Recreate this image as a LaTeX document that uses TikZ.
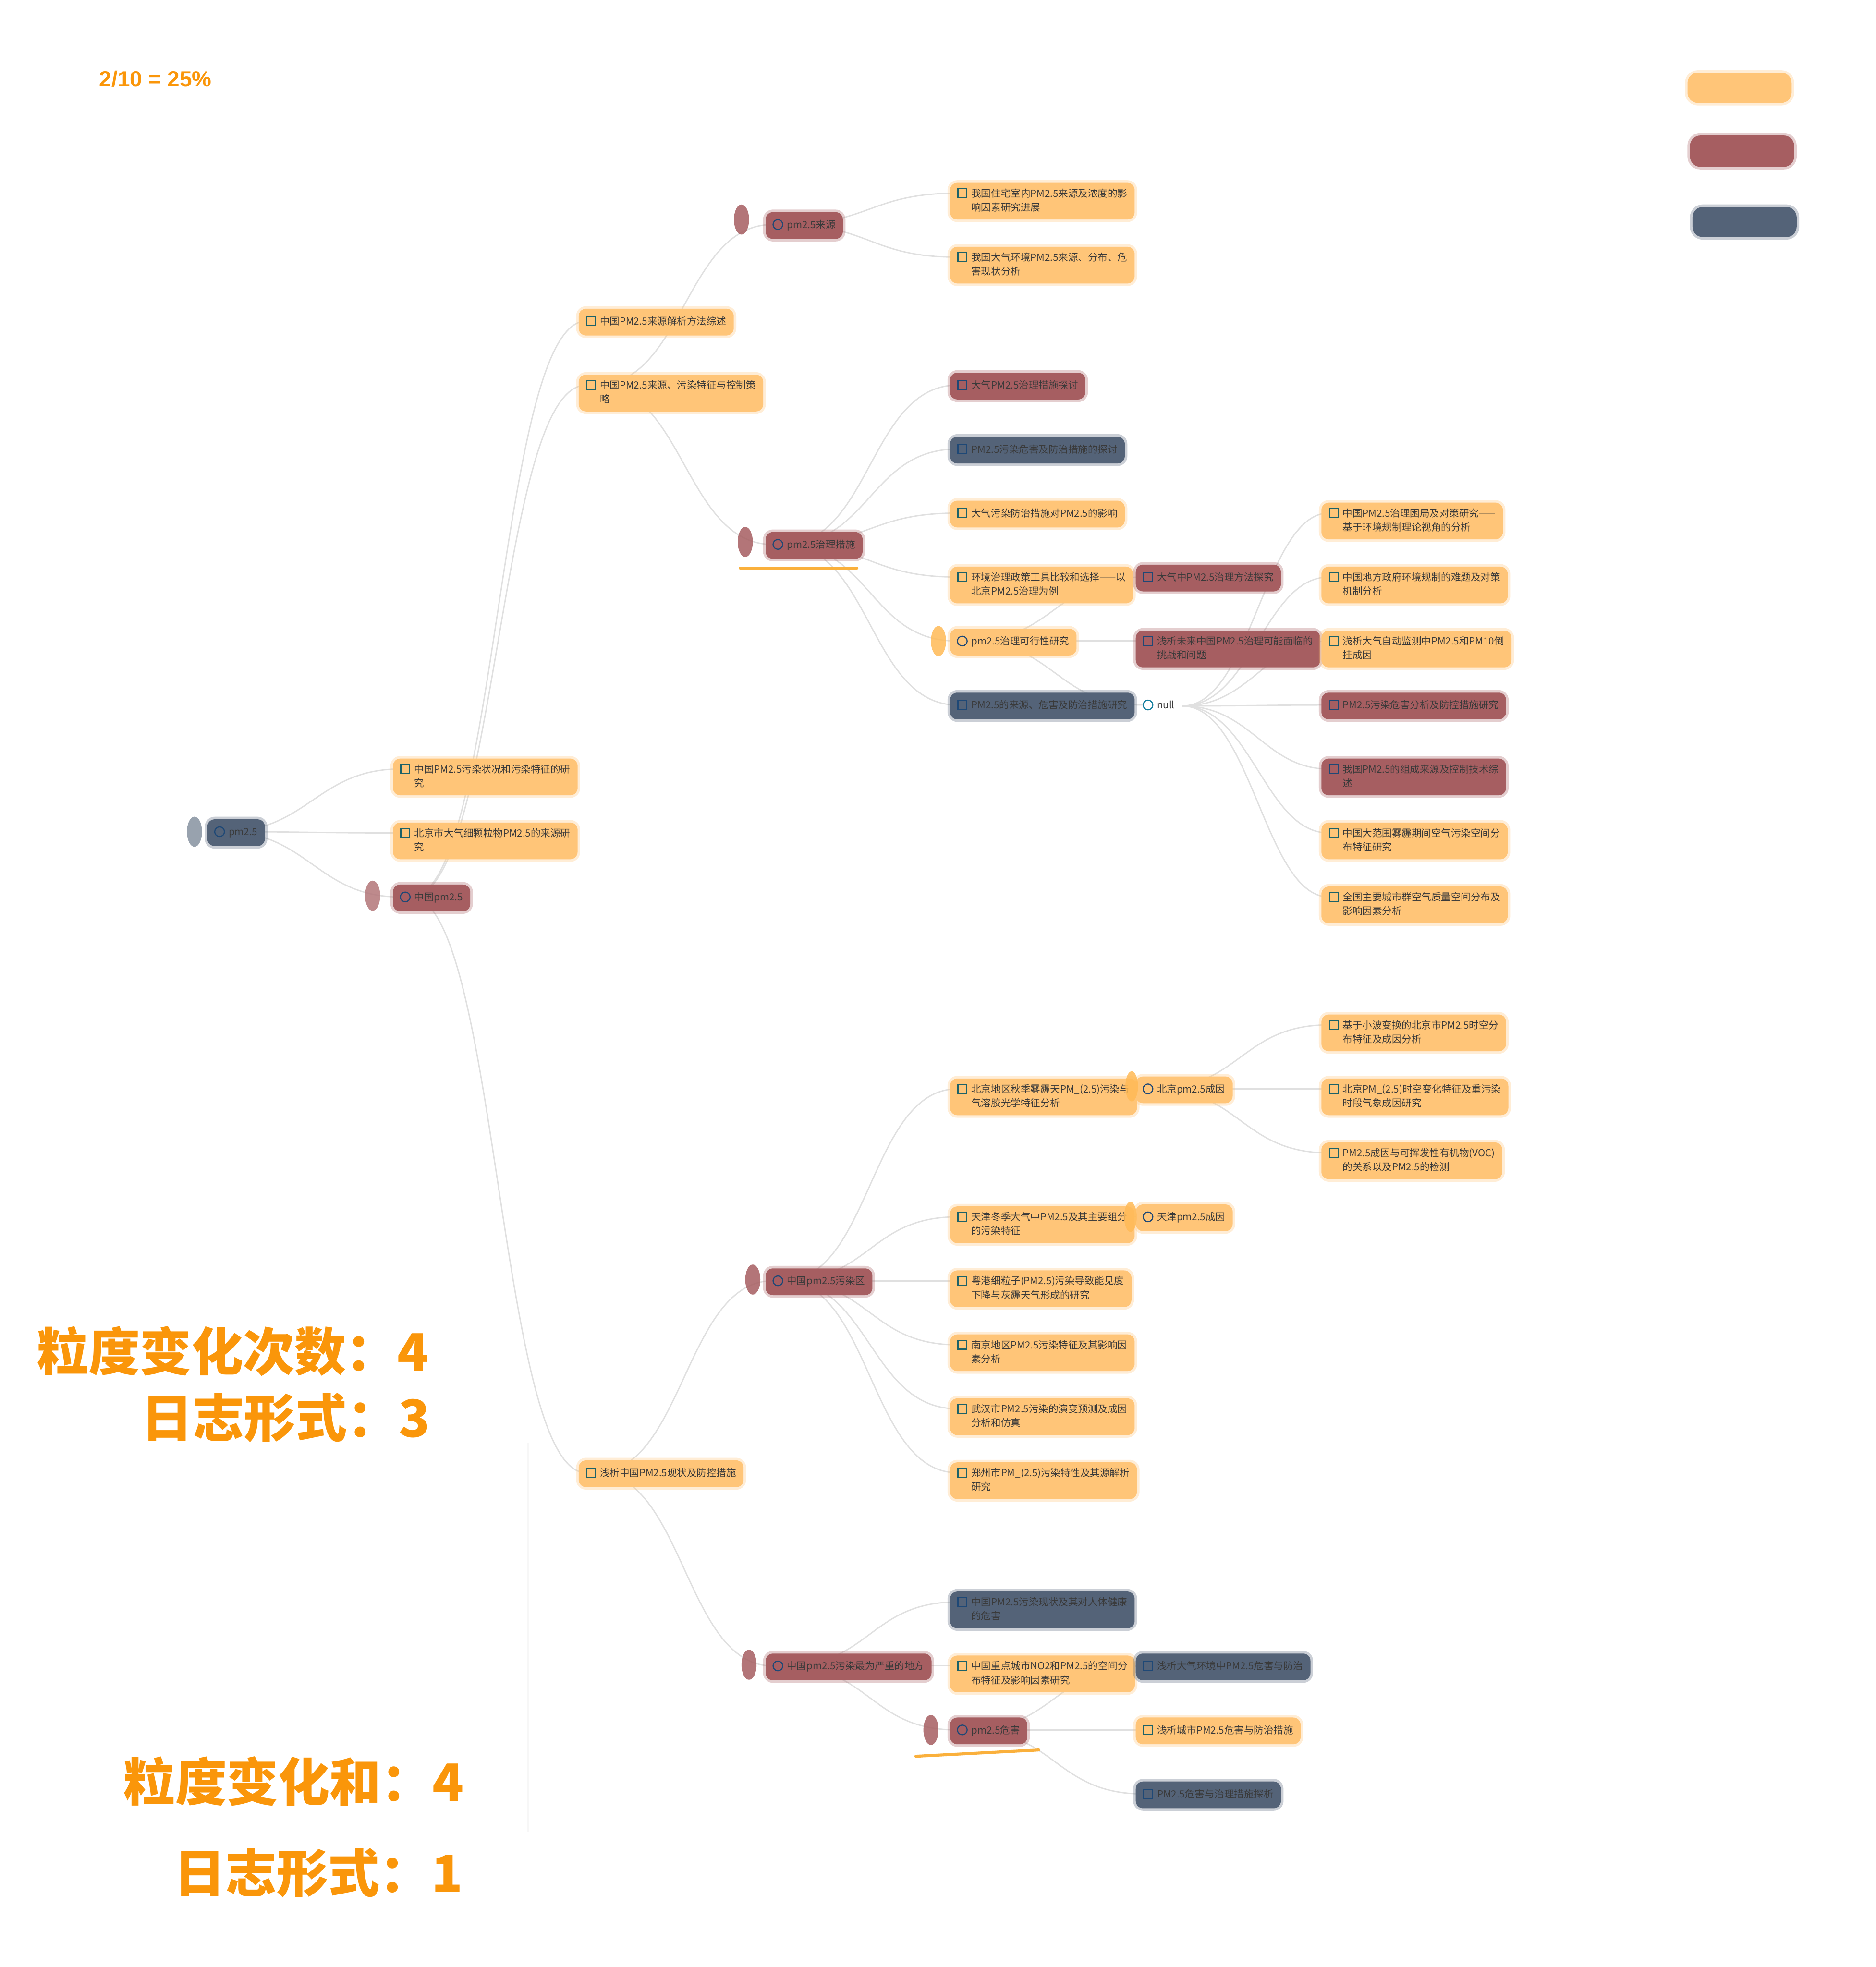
\documentclass[tikz,border=0pt]{standalone}
\usepackage{fontspec}
\setmainfont{Noto Sans CJK SC}
\newfontfamily\latinfont{Liberation Sans}

\pgfdeclarelayer{background}
\pgfsetlayers{background,main}

\definecolor{cOrange}{RGB}{255,197,120}
\definecolor{cOrangeCap}{RGB}{255,186,86}
\definecolor{cRed}{RGB}{166,94,97}
\definecolor{cSlate}{RGB}{84,99,120}
\definecolor{cText}{RGB}{58,58,58}
\definecolor{cIcon}{RGB}{28,98,104}
\definecolor{cIconB}{RGB}{30,72,118}
\definecolor{cLink}{RGB}{224,224,224}
\definecolor{cBig}{RGB}{250,150,10}
\definecolor{cLine}{RGB}{250,176,60}

\tikzset{
  txt/.style={font=\fontsize{6.7pt}{9.5pt}\selectfont, text=cText,
    inner xsep=3pt, inner ysep=3pt, minimum height=0.64cm},
  hl/.style={fill=#1, rounded corners=5pt,
    preaction={draw=#1, draw opacity=0.3, line width=3.5pt}},
  hlo/.style={hl=cOrange},
  hlr/.style={hl=cRed},
  hls/.style={hl=cSlate},
  sq/.style={draw=cIcon, line width=0.75pt, minimum size=6pt, inner sep=0pt},
  sqb/.style={sq, draw=cIconB},
  ci/.style={circle, draw=cIconB, line width=0.75pt, minimum size=6.6pt, inner sep=0pt},
  cin/.style={ci, draw=cIconB!70!cyan},
  cap/.style={fill=#1, fill opacity=0.85},
  lg/.style={fill=#1, rounded corners=7pt,
    preaction={draw=#1, draw opacity=0.3, line width=3.5pt}},
  link/.style={draw=cLink, line width=0.9pt},
  uline/.style={draw=cLine, line width=2pt, line cap=round},
  big/.style={font=\fontsize{35pt}{40pt}\selectfont\bfseries, text=cBig, inner sep=0pt},
}

% #1 nome, #2 destaque, #3 icone, #4 posicao do icone, #5 texto
\newcommand{\mmentry}[5]{%
  \node[txt, #2, anchor=base west] (#1-t) at ([shift={(-10,3)}]#4)
    {\hspace*{11.5pt}\begin{tabular}[t]{@{}l@{}}#5\end{tabular}\hspace*{2pt}};
  \node[#3] (#1) at (#4) {};
}

\begin{document}
\begin{tikzpicture}[x=0.03cm, y=-0.03cm]
  \useasboundingbox (0,0) rectangle (1495,1568);

  % legenda
  \fill[lg=cOrange] (1345,58) rectangle (1428,82);
  \fill[lg=cRed] (1347,108) rectangle (1430,133);
  \fill[lg=cSlate] (1349,165) rectangle (1432,189);

  % raiz e primeiro nivel
  \mmentry{r}{hls}{ci}{175,663}{pm2.5}
  \mmentry{a1}{hlo}{sq}{323,613}{中国PM2.5污染状况和污染特征的研\\究}
  \mmentry{a2}{hlo}{sq}{323,664}{北京市大气细颗粒物PM2.5的来源研\\究}
  \mmentry{a3}{hlr}{ci}{323,715}{中国pm2.5}

  % segundo nivel
  \mmentry{b1}{hlo}{sq}{471,256}{中国PM2.5来源解析方法综述}
  \mmentry{b2}{hlo}{sq}{471,307}{中国PM2.5来源、污染特征与控制策\\略}
  \mmentry{b3}{hlo}{sq}{471,1174}{浅析中国PM2.5现状及防控措施}

  % terceiro nivel
  \mmentry{c1}{hlr}{ci}{620,179}{pm2.5来源}
  \mmentry{c2}{hlr}{ci}{620,434}{pm2.5治理措施}
  \mmentry{c3}{hlr}{ci}{620,1021}{中国pm2.5污染区}
  \mmentry{c4}{hlr}{ci}{620,1328}{中国pm2.5污染最为严重的地方}

  % quarto nivel
  \mmentry{d1}{hlo}{sq}{767,154}{我国住宅室内PM2.5来源及浓度的影\\响因素研究进展}
  \mmentry{d2}{hlo}{sq}{767,205}{我国大气环境PM2.5来源、分布、危\\害现状分析}
  \mmentry{d3}{hlr}{sqb}{767,307}{大气PM2.5治理措施探讨}
  \mmentry{d4}{hls}{sqb}{767,358}{PM2.5污染危害及防治措施的探讨}
  \mmentry{d5}{hlo}{sq}{767,409}{大气污染防治措施对PM2.5的影响}
  \mmentry{d6}{hlo}{sq}{767,460}{环境治理政策工具比较和选择——以\\北京PM2.5治理为例}
  \mmentry{d7}{hlo}{ci}{767,511}{pm2.5治理可行性研究}
  \mmentry{d8}{hls}{sqb}{767,562}{PM2.5的来源、危害及防治措施研究}
  \mmentry{d9}{hlo}{sq}{767,868}{北京地区秋季雾霾天PM\_(2.5)污染与\\气溶胶光学特征分析}
  \mmentry{d10}{hlo}{sq}{767,970}{天津冬季大气中PM2.5及其主要组分\\的污染特征}
  \mmentry{d11}{hlo}{sq}{767,1021}{粤港细粒子(PM2.5)污染导致能见度\\下降与灰霾天气形成的研究}
  \mmentry{d12}{hlo}{sq}{767,1072}{南京地区PM2.5污染特征及其影响因\\素分析}
  \mmentry{d13}{hlo}{sq}{767,1123}{武汉市PM2.5污染的演变预测及成因\\分析和仿真}
  \mmentry{d14}{hlo}{sq}{767,1174}{郑州市PM\_(2.5)污染特性及其源解析\\研究}
  \mmentry{d15}{hls}{sqb}{767,1277}{中国PM2.5污染现状及其对人体健康\\的危害}
  \mmentry{d16}{hlo}{sq}{767,1328}{中国重点城市NO2和PM2.5的空间分\\布特征及影响因素研究}
  \mmentry{d17}{hlr}{ci}{767,1379}{pm2.5危害}

  % quinto nivel
  \mmentry{e1}{hlr}{sqb}{915,460}{大气中PM2.5治理方法探究}
  \mmentry{e2}{hlr}{sqb}{915,511}{浅析未来中国PM2.5治理可能面临的\\挑战和问题}
  \mmentry{e3}{}{cin}{915,562}{null}
  \mmentry{e4}{hlo}{ci}{915,868}{北京pm2.5成因}
  \mmentry{e5}{hlo}{ci}{915,970}{天津pm2.5成因}
  \mmentry{e6}{hls}{sqb}{915,1328}{浅析大气环境中PM2.5危害与防治}
  \mmentry{e7}{hlo}{sq}{915,1379}{浅析城市PM2.5危害与防治措施}
  \mmentry{e8}{hls}{sqb}{915,1430}{PM2.5危害与治理措施探析}

  % sexto nivel
  \mmentry{f1}{hlo}{sq}{1063,409}{中国PM2.5治理困局及对策研究——\\基于环境规制理论视角的分析}
  \mmentry{f2}{hlo}{sq}{1063,460}{中国地方政府环境规制的难题及对策\\机制分析}
  \mmentry{f3}{hlo}{sq}{1063,511}{浅析大气自动监测中PM2.5和PM10倒\\挂成因}
  \mmentry{f4}{hlr}{sqb}{1063,562}{PM2.5污染危害分析及防控措施研究}
  \mmentry{f5}{hlr}{sqb}{1063,613}{我国PM2.5的组成来源及控制技术综\\述}
  \mmentry{f6}{hlo}{sq}{1063,664}{中国大范围雾霾期间空气污染空间分\\布特征研究}
  \mmentry{f7}{hlo}{sq}{1063,715}{全国主要城市群空气质量空间分布及\\影响因素分析}
  \mmentry{f8}{hlo}{sq}{1063,817}{基于小波变换的北京市PM2.5时空分\\布特征及成因分析}
  \mmentry{f9}{hlo}{sq}{1063,868}{北京PM\_(2.5)时空变化特征及重污染\\时段气象成因研究}
  \mmentry{f10}{hlo}{sq}{1063,919}{PM2.5成因与可挥发性有机物(VOC)\\的关系以及PM2.5的检测}

  % pinceladas a esquerda dos topicos
  \fill[cap=cSlate!70] ([shift={(-20,0)}]r.center) ellipse (6 and 12);
  \fill[cap=cRed!85] ([shift={(-26,-1)}]a3.center) ellipse (6 and 12);
  \fill[cap=cRed] ([shift={(-29,-4)}]c1.center) ellipse (6 and 12);
  \fill[cap=cRed] ([shift={(-26,-2)}]c2.center) ellipse (6 and 12);
  \fill[cap=cRed] ([shift={(-20,-1)}]c3.center) ellipse (6 and 12);
  \fill[cap=cRed] ([shift={(-23,-1)}]c4.center) ellipse (6 and 12);
  \fill[cap=cOrangeCap] ([shift={(-19,0)}]d7.center) ellipse (6 and 12);
  \fill[cap=cRed] ([shift={(-25,0)}]d17.center) ellipse (6 and 12);
  \fill[cap=cOrangeCap] ([shift={(-13,-2)}]e4.center) ellipse (5 and 12);
  \fill[cap=cOrangeCap] ([shift={(-14,0)}]e5.center) ellipse (5 and 12);

  % sublinhados
  \draw[uline] ([shift={(-30,19)}]c2.center) -- ([shift={(63,19)}]c2.center);
  \draw[uline] ([shift={(-37,21)}]d17.center) -- ([shift={(61,16)}]d17.center);

  % ligacoes
  \begin{pgfonlayer}{background}
    \fill[white] (0,0) rectangle (1495,1568);
    \foreach \k in {a1,a2,a3}
      \draw[link] (r) .. controls +(70,0) and +(-70,0) .. (\k);
    \foreach \k in {b1,b2,b3}
      \draw[link] (a3) .. controls +(74,0) and +(-74,0) .. (\k);
    \foreach \k in {c1,c2}
      \draw[link] (b2) .. controls +(74,0) and +(-74,0) .. (\k);
    \foreach \k in {c3,c4}
      \draw[link] (b3) .. controls +(74,0) and +(-74,0) .. (\k);
    \foreach \k in {d1,d2}
      \draw[link] (c1) .. controls +(74,0) and +(-74,0) .. (\k);
    \foreach \k in {d3,d4,d5,d6,d7,d8}
      \draw[link] (c2) .. controls +(74,0) and +(-74,0) .. (\k);
    \foreach \k in {d9,d10,d11,d12,d13,d14}
      \draw[link] (c3) .. controls +(74,0) and +(-74,0) .. (\k);
    \foreach \k in {d15,d16,d17}
      \draw[link] (c4) .. controls +(74,0) and +(-74,0) .. (\k);
    \foreach \k in {e1,e2,e3}
      \draw[link] (d7) .. controls +(74,0) and +(-74,0) .. (\k);
    \draw[link] (d9) -- (e4);
    \draw[link] (d10) -- (e5);
    \foreach \k in {e6,e7,e8}
      \draw[link] (d17) .. controls +(74,0) and +(-74,0) .. (\k);
    \foreach \k in {f1,f2,f3,f4,f5,f6,f7}
      \draw[link] (e3-t.east) .. controls +(55,0) and +(-55,0) .. (\k);
    \foreach \k in {f8,f9,f10}
      \draw[link] (e4) .. controls +(74,0) and +(-74,0) .. (\k);
    \draw[gray!6, line width=1pt] (421,1150) -- (421,1460);
  \end{pgfonlayer}

  % anotacoes
  \node[font=\latinfont\bfseries\fontsize{15pt}{18pt}\selectfont, text=cBig,
    anchor=west, inner sep=0pt] (ratio) at (79,63) {2/10 = 25\%};
  \node[big, anchor=east] (g1) at (342,1077) {粒度变化次数：4};
  \node[big, anchor=east] (g2) at (343,1130) {日志形式：3};
  \node[big, anchor=east] (g3) at (370,1420) {粒度变化和：4};
  \node[big, anchor=east] (g4) at (369,1493) {日志形式：1};
\end{tikzpicture}
\end{document}
